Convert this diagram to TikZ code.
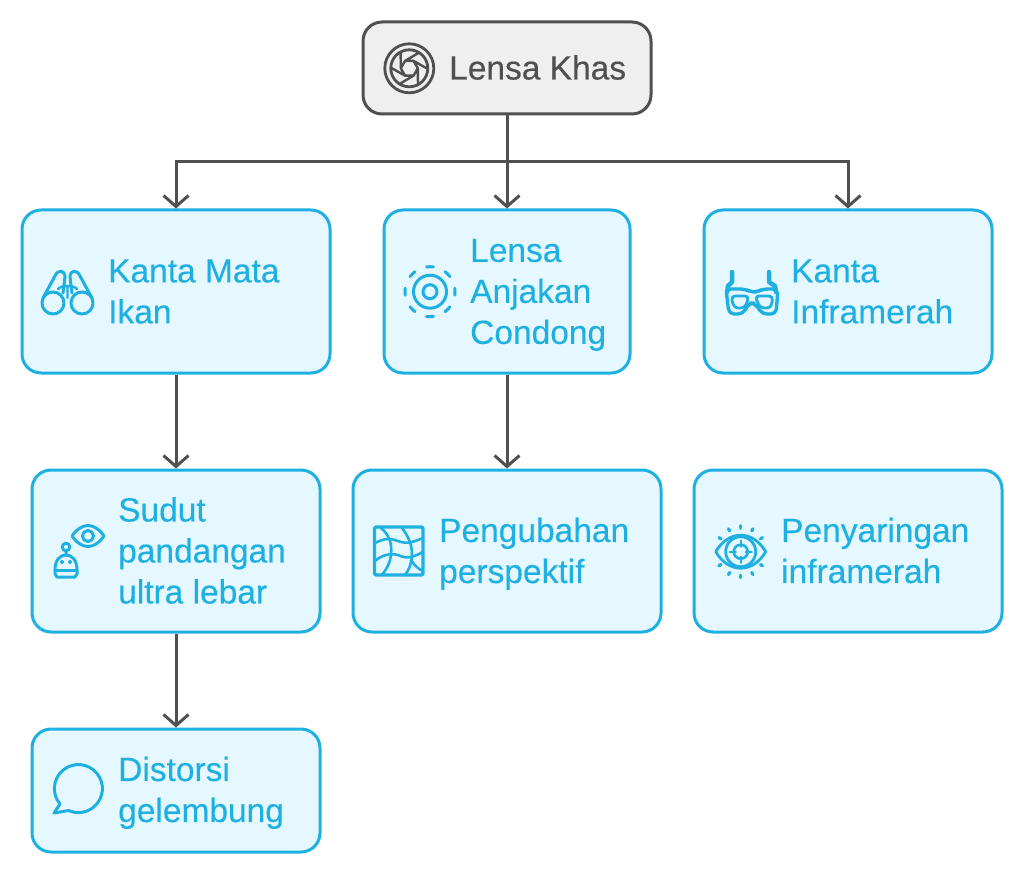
\documentclass[tikz,border=0pt]{standalone}
\usepackage{fontspec}
\setmainfont{Liberation Sans}
\newfontfamily\labelfont[FakeBold=0.25]{Liberation Sans}
\usetikzlibrary{arrows.meta}
\definecolor{boxblue}{HTML}{1FB0E2}
\definecolor{boxfill}{HTML}{E5F8FF}
\definecolor{rootline}{HTML}{505050}
\definecolor{rootfill}{HTML}{EFEFEF}
\tikzset{
  rootbox/.style={draw=rootline,fill=rootfill,line width=3pt,rounded corners=19pt,inner sep=0pt},
  itembox/.style={draw=boxblue,fill=boxfill,line width=3pt,rounded corners=19pt,inner sep=0pt},
  label/.style={anchor=west,align=left,inner sep=0pt,yshift=-5.5pt,text=boxblue,
    font=\labelfont\fontsize{33.5}{41}\selectfont,execute at begin node=\strut,execute at end node=\strut},
  link/.style={draw=rootline,line width=3pt,-{Straight Barb[length=11pt,width=25pt,line width=3pt]}},
  icon/.style={draw=boxblue,line width=3pt,line cap=round,line join=round},
  darkicon/.style={draw=rootline,line width=2.8pt,line cap=round,line join=round}
}
\begin{document}
\begin{tikzpicture}[x=1pt,y=-1pt]
  \useasboundingbox[fill=white] (0,0) rectangle (1024,874);
  % boxes
  \node[rootbox,minimum width=288pt,minimum height=92pt] (root) at (507,68) {};
  \node[itembox,minimum width=308pt,minimum height=163pt] (fisheye) at (176,291.5) {};
  \node[itembox,minimum width=246pt,minimum height=163pt] (tilt) at (507,291.5) {};
  \node[itembox,minimum width=288pt,minimum height=163pt] (infra) at (848,291.5) {};
  \node[itembox,minimum width=288pt,minimum height=162pt] (wide) at (176,551) {};
  \node[itembox,minimum width=308pt,minimum height=162pt] (persp) at (507,551) {};
  \node[itembox,minimum width=308pt,minimum height=162pt] (filter) at (848,551) {};
  \node[itembox,minimum width=288pt,minimum height=123pt] (bubble) at (176,790.5) {};
  % labels
  \node[label,text=rootline,yshift=2.2pt] (rootlabel) at (449,68) {Lensa Khas};
  \node[label] (fisheyelabel) at (108,292) {Kanta Mata\\Ikan};
  \node[label] (tiltlabel) at (470,292) {Lensa\\Anjakan\\Condong};
  \node[label] (infralabel) at (791,292) {Kanta\\Inframerah};
  \node[label] (widelabel) at (118,551) {Sudut\\pandangan\\ultra lebar};
  \node[label] (persplabel) at (439,551) {Pengubahan\\perspektif};
  \node[label] (filterlabel) at (781,551) {Penyaringan\\inframerah};
  \node[label] (bubblelabel) at (118,790) {Distorsi\\gelembung};
  % connectors
  \coordinate (bus) at (507,162);
  \draw[link] (root.south) -- (tilt.north);
  \draw[link] (bus) -| (fisheye.north);
  \draw[link] (bus) -| (infra.north);
  \draw[link] (fisheye.south) -- (wide.north);
  \draw[link] (wide.south) -- (bubble.north);
  \draw[link] (tilt.south) -- (persp.north);
  % aperture
  \begin{scope}[shift={(409.3,68.3)}]
    \draw[darkicon] (0,0) circle [radius=24.5];
    \draw[darkicon] (0,0) circle [radius=18.5];
    \foreach \a in {0,60,...,300}
      \draw[darkicon,line width=2.4pt] (\a:8.5) -- (\a+60:8.5) (\a:8.5) -- (\a+62:18.5);
  \end{scope}
  % binoculars
  \draw[icon] (53,303) circle [radius=11] (82,303) circle [radius=11];
  \draw[icon] (43,298) -- (55,276) .. controls (58,269) and (65,270) .. (65,277) -- (63,293);
  \draw[icon] (92,298) -- (80,276) .. controls (77,269) and (70,270) .. (70,277) -- (72,293);
  \draw[icon,line width=2.4pt] (58,289) .. controls (61,285) and (74,285) .. (77,289) (67.5,286) -- (67.5,298);
  % concentric rings
  \begin{scope}[shift={(430,291.7)}]
    \draw[icon] (0,0) circle [radius=7] (0,0) circle [radius=16.5];
    \foreach \a in {0,45,...,315}
      \draw[icon] (\a-8:25) arc [start angle=\a-8,end angle=\a+8,radius=25];
  \end{scope}
  % glasses
  \draw[icon,line width=4.5pt] (727,292) -- (728,286) -- (732,282) -- (732,272);
  \draw[icon,line width=4.5pt] (776,292) -- (775,286) -- (769,282) -- (769,272);
  \draw[icon,line width=3.4pt,rounded corners=5pt] (726,289) -- (745,289) -- (751,292) -- (757,292) -- (763,289) -- (778,289) -- (776,314) -- (762,314) -- (755,303) -- (749,303) -- (743,314) -- (729,314) -- cycle;
  \draw[icon,line width=2.8pt,rounded corners=4pt] (731,296) -- (749,296) -- (745,308) -- (734,308) -- cycle;
  \draw[icon,line width=2.8pt,rounded corners=4pt] (755,296) -- (773,296) -- (771,308) -- (760,308) -- cycle;
  % robot and eye
  \draw[icon] (72,536) .. controls (82,522) and (94,522) .. (104,536) .. controls (94,550) and (82,550) .. cycle;
  \draw[icon] (88,536) circle [radius=5.5];
  \draw[icon] (66,547) circle [radius=3.8] (66,551) -- (66,555);
  \draw[icon] (55,570) .. controls (55,560) and (60,555) .. (66,555) .. controls (72,555) and (77,560) .. (77,570) -- (77,574) -- (75,577) -- (57,577) -- (55,574) -- cycle;
  \draw[icon] (55,570) -- (77,570);
  \fill[boxblue] (62,562) circle [radius=2] (70,562) circle [radius=2];
  % warped grid
  \draw[icon,line width=3.4pt,rounded corners=2pt] (374.5,527) rectangle (423,575);
  \draw[icon,line width=2.6pt] (375,543) .. controls (385,538) and (390,538) .. (398,541) .. controls (408,545) and (415,541) .. (423,538);
  \draw[icon,line width=2.6pt] (375,561) .. controls (382,555) and (390,553) .. (398,555) .. controls (408,560) and (415,556) .. (423,552);
  \draw[icon,line width=2.6pt] (381,528) .. controls (391,536) and (393,548) .. (390,560) .. controls (388,567) and (385,571) .. (382,575);
  \draw[icon,line width=2.6pt] (402,528) .. controls (410,538) and (414,550) .. (411,562) .. controls (410,567) and (408,571) .. (405,575);
  \draw[icon,line width=2.6pt] (411,560) .. controls (414,565) and (418,569) .. (423,571);
  % target eye
  \begin{scope}[shift={(740.7,551.7)}]
    \draw[icon,line width=2.8pt] (-25,0) .. controls (-12,-22) and (12,-22) .. (25,0) .. controls (12,22) and (-12,22) .. cycle;
    \draw[icon,line width=2.8pt] (0,0) circle [radius=15];
    \draw[icon,line width=2.6pt] (0,0) circle [radius=7];
    \draw[icon,line width=2.4pt] (0,-11) -- (0,-5) (0,11) -- (0,5) (-11,0) -- (-5,0) (11,0) -- (5,0);
    \foreach \a in {33,62,90,118,147,213,242,270,298,327}
      \draw[icon,line width=3.2pt] (\a:23.5) -- (\a:26);
  \end{scope}
  % speech bubble
  \draw[icon] (60,804) arc [start angle=140,end angle=474,radius=24] -- (54,813) -- cycle;
\end{tikzpicture}
\end{document}
